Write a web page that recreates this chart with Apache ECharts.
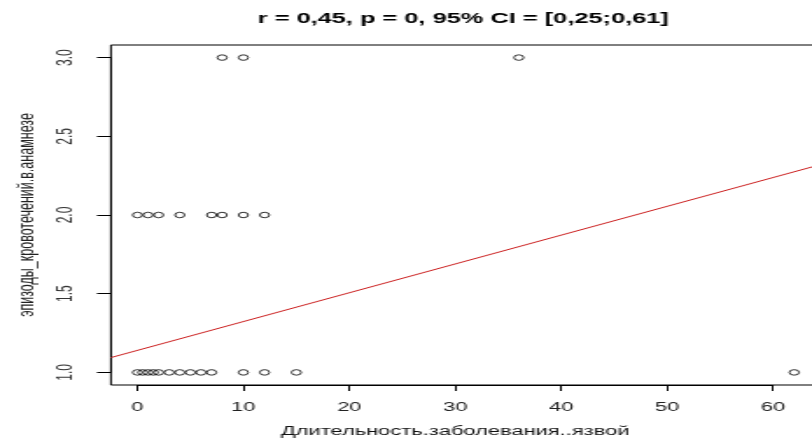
<!DOCTYPE html>
<html>
<head>
<meta charset="utf-8">
<script src="https://cdn.jsdelivr.net/npm/echarts@6/dist/echarts.min.js"></script>
<style>
  html, body { margin: 0; padding: 0; background: #fff; overflow: hidden; }
  /* the plot is drawn narrow and widened horizontally, like the stretched R device */
  #chart { width: 464px; height: 443px; transform: scaleX(1.75); transform-origin: 0 0; }
</style>
</head>
<body>
<div id="chart"></div>
<script>
// Duration of ulcer disease (years) vs. number of bleeding episodes
const episodes3 = [8, 10, 36];
const episodes2 = [0, 1, 2, 4, 7, 8, 10, 12];
const episodes1 = [0, 0.5, 1, 1.5, 2, 3, 4, 5, 6, 7, 10, 12, 15, 62];
const xTicks = [0, 10, 20, 30, 40, 50, 60];
const yTicks = ['1.0', '1.5', '2.0', '2.5', '3.0'];
// fitted regression line y = a + b*x
const fitIntercept = 1.14;
const fitSlope = 0.0183;

const titleText = 'r = 0,45, p = 0, 95% CI = [0,25;0,61]';
const xName = 'Длительность.заболевания..язвой';
const yName = 'эпизоды_кровотечений.в.анамнезе';

// R-style axis ranges (4% padding around data)
const xMin = -2.5, xMax = 65;
const yMin = 0.92, yMax = 3.08;

// plot frame
const frame = { left: 63.4, top: 45, width: 408.6, height: 340 };
const kx = frame.width / (xMax - xMin);
const ky = frame.height / (yMax - yMin);
// inner grid spanning exactly the tick range, used only for the axes
const tickGrid = {
  left: frame.left + (xTicks[0] - xMin) * kx,
  width: (xTicks[xTicks.length - 1] - xTicks[0]) * kx,
  top: frame.top + (yMax - parseFloat(yTicks[yTicks.length - 1])) * ky,
  height: (parseFloat(yTicks[yTicks.length - 1]) - parseFloat(yTicks[0])) * ky
};

const font = '"Liberation Sans", Arial, Helvetica, sans-serif';
const pts = [];
episodes3.forEach(x => pts.push([x, 3]));
episodes2.forEach(x => pts.push([x, 2]));
episodes1.forEach(x => pts.push([x, 1]));

const fitLine = [xMin, xMax].map(x => [x, fitIntercept + fitSlope * x]);

const chart = echarts.init(document.getElementById('chart'));
chart.setOption({
  animation: false,
  backgroundColor: '#fff',
  title: {
    text: titleText,
    left: frame.left + frame.width / 2 - 3,
    top: 11,
    textAlign: 'center',
    padding: 0,
    textStyle: { fontFamily: font, fontSize: 14.5, fontWeight: 'bold', color: '#000' }
  },
  grid: [
    { left: frame.left, top: frame.top, width: frame.width, height: frame.height,
      outerBoundsMode: 'none', containLabel: false,
      show: true, borderColor: '#000', borderWidth: 1, backgroundColor: 'transparent' },
    { left: tickGrid.left, top: tickGrid.top, width: tickGrid.width, height: tickGrid.height,
      outerBoundsMode: 'none', containLabel: false, show: false }
  ],
  xAxis: [
    { gridIndex: 0, type: 'value', min: xMin, max: xMax, show: false },
    { gridIndex: 1, type: 'value', min: xTicks[0], max: xTicks[xTicks.length - 1], interval: 10,
      position: 'bottom',
      offset: frame.top + frame.height - (tickGrid.top + tickGrid.height),
      axisLine: { show: true, onZero: false, lineStyle: { color: '#000', width: 1 } },
      axisTick: { show: true, inside: false, length: 6, lineStyle: { color: '#000' } },
      splitLine: { show: false },
      axisLabel: { margin: 16, fontFamily: font, fontSize: 12.5, color: '#222',
        formatter: v => String(v) },
      name: xName, nameLocation: 'middle', nameGap: 40,
      nameTextStyle: { fontFamily: font, fontSize: 12.5, color: '#111' }
    }
  ],
  yAxis: [
    { gridIndex: 0, type: 'value', min: yMin, max: yMax, show: false },
    { gridIndex: 1, type: 'value', min: 1, max: 3, interval: 0.5,
      position: 'left',
      offset: tickGrid.left - frame.left,
      axisLine: { show: true, onZero: false, lineStyle: { color: '#000', width: 1 } },
      axisTick: { show: true, inside: false, length: 8, lineStyle: { color: '#000' } },
      splitLine: { show: false },
      axisLabel: { margin: 19.5, rotate: 90, fontFamily: font, fontSize: 12, color: '#333',
        formatter: v => yTicks[Math.round((v - 1) / 0.5)] },
      name: yName, nameLocation: 'middle', nameRotate: 90, nameGap: 41.5,
      nameTextStyle: { fontFamily: font, fontSize: 12.5, color: '#222' }
    }
  ],
  series: [
    {
      type: 'line', xAxisIndex: 0, yAxisIndex: 0, data: fitLine,
      symbol: 'none', clip: true, silent: true,
      lineStyle: { color: '#cc2222', width: 1 }
    },
    {
      type: 'scatter', xAxisIndex: 0, yAxisIndex: 0, data: pts,
      symbol: 'circle', symbolSize: 5.5, clip: false,
      itemStyle: { color: 'rgba(0,0,0,0)', borderColor: '#000', borderWidth: 1 }
    }
  ]
});
</script>
</body>
</html>
